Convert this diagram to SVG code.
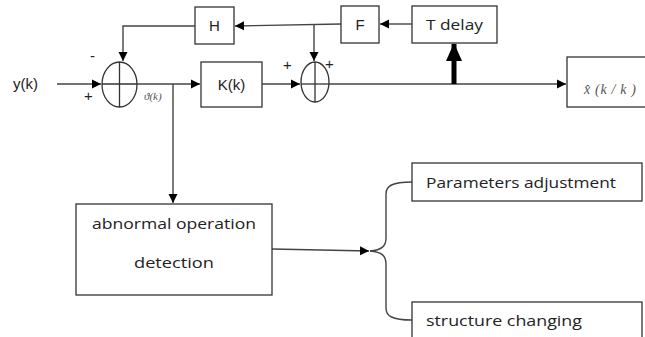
<svg xmlns="http://www.w3.org/2000/svg" width="645" height="337" viewBox="0 0 645 337">
<defs>
<marker id="ah" markerWidth="10" markerHeight="10" refX="9" refY="5" orient="auto" markerUnits="userSpaceOnUse">
<path d="M0,0.5 L9,5 L0,9.5 Z" fill="#000"/>
</marker>
<marker id="ahb" markerWidth="20" markerHeight="20" refX="17" refY="8" orient="auto" markerUnits="userSpaceOnUse">
<path d="M0,0 L18,8 L0,16 Z" fill="#000"/>
</marker>
<style>
.box{fill:#fff;stroke:#333;stroke-width:1.3}
.ln{fill:none;stroke:#444;stroke-width:1.4}
.sum{fill:none;stroke:#333;stroke-width:1.3}
.t{font-family:"Liberation Sans",Arial,sans-serif;font-size:15px;fill:#222}
.c{font-family:"Open Sans","Liberation Sans",sans-serif;font-size:15px;fill:#222}
.m{font-family:"Liberation Serif","Times New Roman",serif;font-style:italic;fill:#555}
</style>
</defs>
<rect width="645" height="337" fill="#fff"/>
<g id="connectors">
<line class="ln" x1="57" y1="84" x2="101" y2="84" marker-end="url(#ah)"/>
<polyline class="ln" points="195,26 123,26 123,61" marker-end="url(#ah)"/>
<line class="ln" x1="137" y1="84" x2="200" y2="84" marker-end="url(#ah)"/>
<line class="ln" x1="173" y1="84" x2="173" y2="203" marker-end="url(#ah)"/>
<line class="ln" x1="262" y1="84" x2="300" y2="84" marker-end="url(#ah)"/>
<line class="ln" x1="412" y1="24" x2="380" y2="24" marker-end="url(#ah)"/>
<line class="ln" x1="341" y1="24" x2="235" y2="26" marker-end="url(#ah)"/>
<line class="ln" x1="314" y1="24" x2="314" y2="61" marker-end="url(#ah)"/>
<line class="ln" x1="329" y1="84" x2="566" y2="84" marker-end="url(#ah)"/>
<line x1="454" y1="84" x2="454" y2="44" stroke="#000" stroke-width="5" marker-end="url(#ahb)"/>
<line class="ln" x1="272" y1="249" x2="369" y2="251" marker-end="url(#ah)"/>
<path class="ln" d="M370,251 C382,250 386,246 386,238 L386,194 C386,186 392,182 412,182"/>
<path class="ln" d="M370,251 C382,252 386,256 386,264 L386,308 C386,316 392,320 412,320"/>
</g>
<g id="y">
<text class="t" x="13" y="89" font-size="16">y(k)</text>
<text class="t" x="84" y="101">+</text>
<text class="t" x="90" y="61">-</text>
</g>
<g id="sum1">
<ellipse class="sum" cx="119.5" cy="84.5" rx="17.5" ry="22.5"/>
<line class="sum" x1="119.5" y1="62" x2="119.5" y2="107"/>
<line class="sum" x1="102" y1="84" x2="137" y2="84"/>
</g>
<g id="theta">
<text class="m" x="144" y="100" font-size="11">ϑ(k)</text>
</g>
<g id="H">
<rect class="box" x="195" y="7" width="39" height="37"/>
<text class="t" x="214.5" y="31" text-anchor="middle">H</text>
</g>
<g id="K">
<rect class="box" x="201" y="62" width="61" height="45"/>
<text class="t" x="231.5" y="90" text-anchor="middle" font-size="16">K(k)</text>
</g>
<g id="sum2">
<ellipse class="sum" cx="315" cy="82" rx="14" ry="20"/>
<line class="sum" x1="315" y1="62" x2="315" y2="102"/>
<line class="sum" x1="301" y1="84" x2="329" y2="84"/>
<text class="t" x="283" y="70">+</text>
<text class="t" x="325" y="69">+</text>
</g>
<g id="F">
<rect class="box" x="341" y="6" width="38" height="37"/>
<text class="t" x="360" y="30" text-anchor="middle">F</text>
</g>
<g id="Tdelay">
<rect class="box" x="412" y="6" width="85" height="37"/>
<text class="c" x="426" y="30" textLength="57" lengthAdjust="spacingAndGlyphs">T delay</text>
</g>
<g id="xhat">
<rect class="box" x="567" y="57" width="82" height="50"/>
<text class="m" x="584" y="94" font-size="14" textLength="52" lengthAdjust="spacing">x̂ (k / k )</text>
</g>
<g id="abnormal">
<rect class="box" x="76" y="204" width="196" height="91"/>
<text class="c" x="174" y="229" text-anchor="middle" textLength="164" lengthAdjust="spacingAndGlyphs">abnormal operation</text>
<text class="c" x="174" y="268" text-anchor="middle" textLength="80" lengthAdjust="spacingAndGlyphs">detection</text>
</g>
<g id="params">
<rect class="box" x="412" y="163" width="230" height="38"/>
<text class="c" x="426" y="188" textLength="190" lengthAdjust="spacingAndGlyphs">Parameters adjustment</text>
</g>
<g id="structure">
<rect class="box" x="412" y="302" width="230" height="40"/>
<text class="c" x="426" y="326" textLength="156" lengthAdjust="spacingAndGlyphs">structure changing</text>
</g>
</svg>
